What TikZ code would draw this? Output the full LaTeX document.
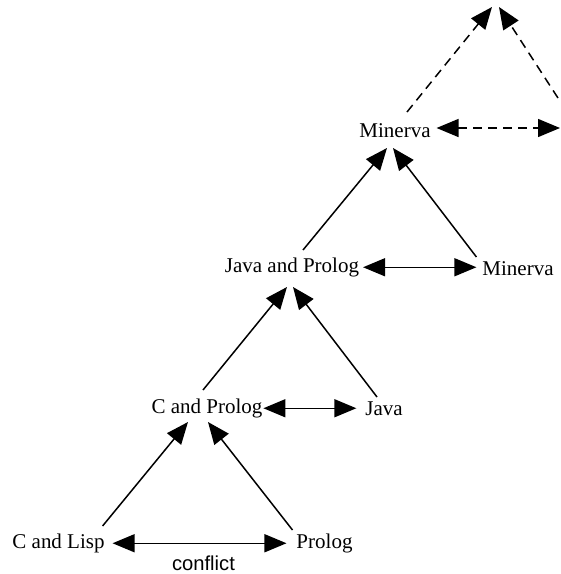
\documentclass[tikz,border=0pt]{standalone}
\usepackage{fontspec}
\setmainfont{Liberation Serif}
\newfontfamily\sansfont{Liberation Sans}
\usetikzlibrary{arrows.meta,calc}

\tikzset{every picture/.style={line width=1.5pt}}
\tikzset{
  lang/.style={inner sep=0pt, outer sep=0pt, anchor=base, text height=14pt, text depth=4.5pt, font=\fontsize{21}{25}\selectfont},
  tag/.style={inner sep=0pt, anchor=base, font=\sansfont\fontsize{20.2}{24}\selectfont},
  arr/.style={-{Triangle[length=22pt,width=18pt]}},
  darr/.style={{Triangle[length=22pt,width=18pt]}-{Triangle[length=22pt,width=18pt]}},
  dsh/.style={dash pattern=on 9pt off 6pt}
}

\begin{document}
\begin{tikzpicture}[x=1pt,y=1pt,yscale=-1,xscale=1]
	\useasboundingbox (0,0) rectangle (561,574);

	% Text Nodes
	\node[lang] (clisp) at (58.5,548) {C and Lisp};
	\node[lang] (prolog) at (324.5,548) {Prolog};
	\node[lang] (cprolog) at (207,413) {C and Prolog};
	\node[lang] (java) at (384,415) {Java};
	\node[lang] (jprolog) at (292,272) {Java and Prolog};
	\node[lang] (minright) at (518,275) {Minerva};
	\node[lang] (mintop) at (395,137) {Minerva};
	\node[tag] (conflict) at (203.5,570) {conflict};

	% free ends, cut off at the border
	\coordinate (apexL) at (492,7);
	\coordinate (apexR) at (499,7);
	\coordinate (nextR) at (560,128);
	\coordinate (nextB) at (558,98);

	% level 1
	\draw[darr, shorten <=8pt, shorten >=10pt] (clisp.east) -- (prolog.west);
	\draw[arr] ($(clisp.north east)+(-2,-8)$) -- ($(cprolog.south)+(-19,4.5)$);
	\draw[arr] ($(prolog.north west)+(-4,-4)$) -- ($(cprolog.south)+(1,4.5)$);

	% level 2
	\draw[darr, shorten <=1pt, shorten >=9pt] (cprolog.east) -- (cprolog.east -| java.west);
	\draw[arr] ($(cprolog.north)+(-4,-9)$) -- ($(jprolog.south)+(-5,10.5)$);
	\draw[arr] ($(java.north)+(-7,-4)$) -- ($(jprolog.south)+(1,10.5)$);

	% level 3
	\draw[darr, shorten <=4pt, shorten >=6pt] (jprolog.east) -- (jprolog.east -| minright.west);
	\draw[arr] ($(jprolog.north)+(11,-8)$) -- ($(mintop.south)+(-8,6.5)$);
	\draw[arr] ($(minright.north west)+(-6,-4)$) -- ($(mintop.south)+(-2,6.5)$);

	% level 4 (dashed)
	\draw[darr, dsh, shorten <=6pt] (mintop.east |- nextR) -- (nextR);
	\draw[arr, dsh] ($(mintop.north)+(12,-11)$) -- (apexL);
	\draw[arr, dsh] (nextB) -- (apexR);

\end{tikzpicture}
\end{document}
